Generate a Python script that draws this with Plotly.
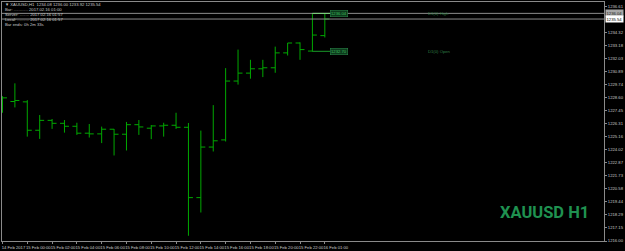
import plotly.graph_objects as go

# ---- data ----
bar_index = list(range(27))
opens  = [1228.48, 1228.28, 1228.25, 1225.75, 1226.62, 1226.36, 1226.10, 1225.49, 1225.43, 1225.84,
          1225.40, 1226.24, 1225.93, 1226.13, 1226.19, 1226.01, 1219.82, 1224.27, 1224.90, 1230.08,
          1230.78, 1231.16, 1231.25, 1232.56, 1233.43, 1232.72, 1234.08]
highs  = [1228.75, 1229.88, 1228.40, 1227.09, 1226.74, 1226.65, 1226.41, 1226.30, 1226.07, 1225.86,
          1226.48, 1226.65, 1226.21, 1226.41, 1227.29, 1226.39, 1225.72, 1227.96, 1231.22, 1232.85,
          1231.95, 1231.95, 1233.11, 1233.43, 1233.49, 1236.04, 1236.00]
lows   = [1227.29, 1227.76, 1225.19, 1224.99, 1225.87, 1225.54, 1225.34, 1225.11, 1224.62, 1223.53,
          1223.97, 1225.34, 1224.97, 1225.19, 1225.87, 1216.46, 1218.51, 1223.88, 1224.76, 1229.77,
          1230.29, 1230.43, 1230.81, 1232.33, 1231.95, 1232.67, 1233.92]
closes = [1228.60, 1228.37, 1225.75, 1226.62, 1226.36, 1226.10, 1225.49, 1225.43, 1225.84, 1225.40,
          1226.24, 1226.04, 1226.13, 1226.19, 1226.01, 1219.82, 1224.27, 1224.82, 1230.08, 1230.78,
          1231.16, 1231.25, 1232.56, 1233.43, 1232.85, 1234.13, 1235.54]

x_tick_pos = [0, 2, 4, 6, 8, 10, 12, 14, 16, 18, 20, 22, 24, 26]
x_tick_labels = ["14 Feb 2017", "15 Feb 00:00", "15 Feb 02:00", "15 Feb 04:00", "15 Feb 06:00",
                 "15 Feb 08:00", "15 Feb 10:00", "15 Feb 12:00", "15 Feb 14:00", "15 Feb 16:00",
                 "15 Feb 18:00", "15 Feb 20:00", "15 Feb 22:00", "16 Feb 01:00"]
y_tick_vals = [1216.00, 1217.15, 1218.29, 1219.44, 1220.58, 1221.73, 1222.87, 1224.02, 1225.16,
               1226.31, 1227.45, 1228.60, 1229.74, 1230.89, 1232.03, 1233.18, 1234.32, 1236.61]

d1_high = 1236.04
d1_open = 1232.70
bid = 1235.54
header_lines = ["\u25bc XAUUSD,H1  1234.08 1236.00 1233.92 1235.54",
                "Bar: ............ 2017.02.16 01:00",
                "Server: ........ 2017.02.16 01:57",
                "Local: .......... 2017.02.16 01:57",
                "Bar ends: 0h 2m 33s"]
watermark = "XAUUSD H1"

# ---- figure ----
W, H = 625, 251
ML, MR, MT, MB = 1, 17, 1, 9
PW, PH = W - ML - MR, H - MT - MB
FS = 4.2
FONT = "Liberation Sans"

def px(x):  # pixel -> paper x
    return (x - ML) / PW

def py(y):  # pixel -> paper y
    return (H - MB - y) / PH

bar_col = "#00a800"
fig = go.Figure(go.Ohlc(
    x=bar_index, open=opens, high=highs, low=lows, close=closes,
    increasing=dict(line=dict(color=bar_col, width=1)),
    decreasing=dict(line=dict(color=bar_col, width=1)),
    tickwidth=0.36, hoverinfo="skip", showlegend=False))

last = bar_index[-1]
# price lines
for yv in (d1_high, bid):
    fig.add_shape(type="line", xref="paper", x0=0, x1=1, yref="y", y0=yv, y1=yv,
                  line=dict(color="#8c8c8c", width=1))
# D1 high/open lines from daily open bar
fig.add_shape(type="line", xref="x", x0=last - 1, x1=last + 0.45, y0=d1_high, y1=d1_high,
              line=dict(color="#7fd67f", width=1))
fig.add_shape(type="line", xref="x", x0=last - 1, x1=last + 0.45, y0=d1_open, y1=d1_open,
              line=dict(color="#1a9a2a", width=1))

annotations = []
for yv in (d1_high, d1_open):
    annotations.append(dict(x=last + 0.45, y=yv, xref="x", yref="y", text=f"{yv:.2f}",
                            showarrow=False, xanchor="left", yanchor="middle",
                            font=dict(size=FS, color="#3fbf5f", family=FONT),
                            bgcolor="#0c3a1c", bordercolor="#2f8f4f", borderwidth=0.5, borderpad=0.5))
annotations.append(dict(x=last + 8.2, y=d1_high, xref="x", yref="y", text="D1(0) High",
                        showarrow=False, xanchor="left", yanchor="middle",
                        font=dict(size=FS, color="#2f7f45", family=FONT)))
annotations.append(dict(x=last + 8.2, y=d1_open, xref="x", yref="y", text="D1(0) Open",
                        showarrow=False, xanchor="left", yanchor="middle",
                        font=dict(size=FS, color="#2f7f45", family=FONT)))
# right axis price boxes
annotations.append(dict(x=1.0, y=d1_high, xref="paper", yref="y", text=f"{d1_high:.2f}",
                        showarrow=False, xanchor="left", xshift=1, yanchor="middle",
                        font=dict(size=FS, color="#202020", family=FONT),
                        bgcolor="#a8a8a8", borderpad=0.5))
annotations.append(dict(x=1.0, y=bid, xref="paper", yref="y", text=f"{bid:.2f}",
                        showarrow=False, xanchor="left", xshift=1, yanchor="middle",
                        font=dict(size=FS, color="#000000", family=FONT),
                        bgcolor="#ffffff", borderpad=0.5))
# header
for i, t in enumerate(header_lines):
    annotations.append(dict(x=px(2), y=py(4 + 5 * i), xref="paper", yref="paper", text=t,
                            showarrow=False, xanchor="left", yanchor="middle",
                            font=dict(size=FS, color="#c8c8c8", family=FONT)))
# watermark
annotations.append(dict(x=px(595), y=py(213.5), xref="paper", yref="paper", text=f"<b>{watermark}</b>",
                        showarrow=False, xanchor="right", yanchor="middle",
                        font=dict(size=16.5, color="#1f9150", family="Roboto")))

fig.update_layout(
    width=W, height=H, margin=dict(l=ML, r=MR, t=MT, b=MB, pad=0),
    paper_bgcolor="#000000", plot_bgcolor="#000000",
    annotations=annotations,
    xaxis=dict(range=[-0.04, 48.52], showgrid=False, zeroline=False, rangeslider=dict(visible=False),
               showline=True, mirror=True, linecolor="#8a8a8a", linewidth=1,
               tickvals=x_tick_pos, ticktext=x_tick_labels, ticks="outside", ticklen=2,
               tickangle=0, tickcolor="#8a8a8a", ticklabelshift=11, ticklabelstandoff=0,
               tickfont=dict(size=FS, color="#c8c8c8", family=FONT)),
    yaxis=dict(range=[1216.00, 1237.04], side="right", showgrid=False, zeroline=False,
               showline=True, mirror=True, linecolor="#8a8a8a", linewidth=1,
               tickvals=y_tick_vals, ticktext=[f"{v:.2f}" for v in y_tick_vals],
               ticks="outside", ticklen=2, tickcolor="#8a8a8a", ticklabelstandoff=0,
               tickfont=dict(size=FS, color="#c8c8c8", family=FONT)),
)

fig.write_html("out.html")
